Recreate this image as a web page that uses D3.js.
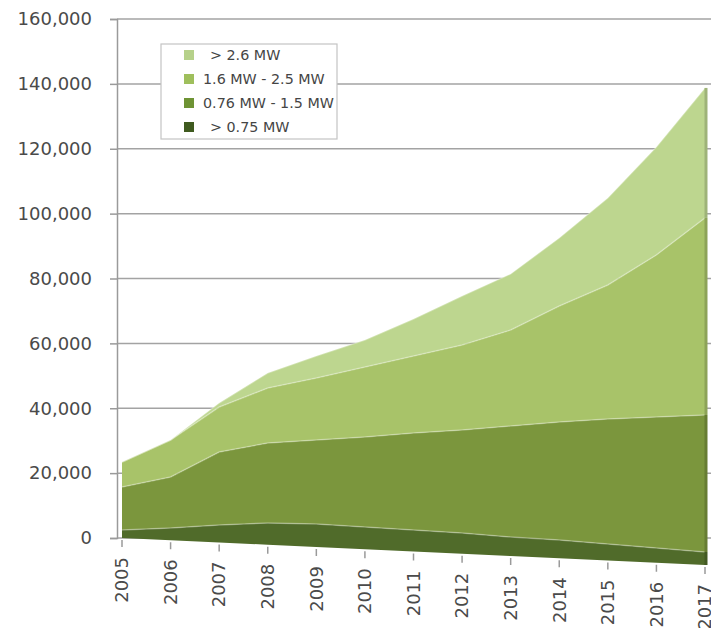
<!DOCTYPE html>
<html>
<head>
<meta charset="utf-8">
<script src="https://cdn.jsdelivr.net/npm/d3@7/dist/d3.min.js"></script>
<style>
  html, body { margin: 0; padding: 0; background: #fff; }
  svg { display: block; font-family: "DejaVu Sans", Verdana, sans-serif; }
</style>
</head>
<body>
<svg id="chart" width="711" height="628"></svg>
<script>
// Installed capacity by turbine size class (MW), 2005-2017
const years = [2005, 2006, 2007, 2008, 2009, 2010, 2011, 2012, 2013, 2014, 2015, 2016, 2017];
const seriesNames = ["> 0.75 MW", "0.76 MW - 1.5 MW", "1.6 MW - 2.5 MW", "> 2.6 MW"];
const under075 = [2470, 3760, 5350, 6620, 6970, 6710, 6460, 6210, 5660, 5420, 4880, 4340, 3810];
const mid076to15 = [13250, 15650, 22310, 24340, 25450, 27160, 29150, 30820, 33080, 35010, 36930, 38550, 40150];
const mid16to25 = [7710, 11360, 13750, 16740, 18790, 21120, 23130, 25430, 28600, 34420, 39600, 47680, 57740];
const over26 = [0, 0, 1230, 4570, 6670, 8150, 11120, 14660, 16690, 20180, 25710, 31780, 38100];
const yTicks = [0, 20000, 40000, 60000, 80000, 100000, 120000, 140000, 160000];

const fills = ["#506b2a", "#7b963d", "#a8c369", "#bdd68f"];
const swatches = ["#3f5a1f", "#6e9334", "#9fbf5c", "#b6d18a"];

const svg = d3.select("#chart");

const yMax = 160000;
const y = d3.scaleLinear().domain([0, yMax]).range([538, 19]);
const x = d3.scalePoint().domain(years).range([122, 705]);
// Floor of the 3-D plot tilts down toward the front-right
const depth = d3.scaleLinear().domain([years[0], years[years.length - 1]]).range([0, 27]);
const project = (yr, v) => y(v) + depth(yr) * (1 - v / yMax);

// Gridlines on the back wall
svg.append("g")
  .selectAll("line")
  .data(yTicks)
  .join("line")
  .attr("x1", 117).attr("x2", 711)
  .attr("y1", d => y(d)).attr("y2", d => y(d))
  .attr("stroke", "#a3a3a3").attr("stroke-width", 1.5);

// Y axis
const yAxis = svg.append("g")
  .attr("transform", "translate(117,0)")
  .call(d3.axisLeft(y).tickValues(yTicks).tickFormat(d3.format(",")).tickSize(7).tickPadding(18));
yAxis.select(".domain").attr("stroke", "#9a9a9a").attr("stroke-width", 1.5);
yAxis.selectAll(".tick line").attr("stroke", "#9a9a9a").attr("stroke-width", 1.5);
yAxis.selectAll(".tick text")
  .attr("fill", "#4a4a4a")
  .style("font-size", "18px")
  .style("font-family", "'DejaVu Sans', Verdana, sans-serif");

// Stacked areas
const rows = years.map((yr, i) => ({
  year: yr,
  [seriesNames[0]]: under075[i],
  [seriesNames[1]]: mid076to15[i],
  [seriesNames[2]]: mid16to25[i],
  [seriesNames[3]]: over26[i]
}));
const stacked = d3.stack().keys(seriesNames)(rows);

const area = d3.area()
  .x(d => x(d.data.year))
  .y0(d => project(d.data.year, d[0]))
  .y1(d => project(d.data.year, d[1]));

const topLine = d3.line()
  .x(d => x(d.data.year))
  .y(d => project(d.data.year, d[1]));

const layers = svg.append("g");
layers.selectAll("path.layer")
  .data(stacked)
  .join("path")
  .attr("class", "layer")
  .attr("d", area)
  .attr("fill", (d, i) => fills[i]);

// Soft highlight along the top edge of each layer
layers.selectAll("path.edge")
  .data(stacked)
  .join("path")
  .attr("class", "edge")
  .attr("d", topLine)
  .attr("fill", "none")
  .attr("stroke", "#ffffff")
  .attr("stroke-opacity", 0.3)
  .attr("stroke-width", 1.5);

// Shaded side face at the last year
const last = years[years.length - 1];
layers.selectAll("line.side")
  .data(stacked)
  .join("line")
  .attr("class", "side")
  .attr("x1", x(last) + 1).attr("x2", x(last) + 1)
  .attr("y1", d => project(last, d[d.length - 1][0]))
  .attr("y2", d => project(last, d[d.length - 1][1]))
  .attr("stroke", (d, i) => d3.color(fills[i]).darker(0.5))
  .attr("stroke-width", 3);

// X axis ticks and labels along the tilted floor
const xg = svg.append("g");
xg.selectAll("line")
  .data(years)
  .join("line")
  .attr("x1", d => x(d)).attr("x2", d => x(d))
  .attr("y1", d => project(d, 0) + 2)
  .attr("y2", d => project(d, 0) + 9)
  .attr("stroke", "#9a9a9a").attr("stroke-width", 1.5);
xg.selectAll("text")
  .data(years)
  .join("text")
  .attr("transform", d => `translate(${x(d)},${project(d, 0) + 19}) rotate(-90)`)
  .attr("text-anchor", "end")
  .attr("dy", "0.35em")
  .attr("fill", "#4a4a4a")
  .style("font-size", "18px")
  .text(d => d);

// Legend
const legend = svg.append("g");
legend.append("rect")
  .attr("x", 161).attr("y", 44).attr("width", 176).attr("height", 95)
  .attr("fill", "#fff").attr("stroke", "#c4c4c4").attr("stroke-width", 1.2);
const legendOrder = [3, 2, 1, 0];
const legendIndent = [26, 19, 19, 26];
const entry = legend.selectAll("g.entry")
  .data(legendOrder)
  .join("g")
  .attr("class", "entry")
  .attr("transform", (d, i) => `translate(184,${55 + i * 24})`);
entry.append("rect")
  .attr("x", 0).attr("y", -5).attr("width", 10).attr("height", 10)
  .attr("fill", d => swatches[d]);
entry.append("text")
  .attr("x", (d, i) => legendIndent[i]).attr("dy", "0.35em")
  .attr("fill", "#454545")
  .style("font-size", "14.3px")
  .text(d => seriesNames[d]);
</script>
</body>
</html>
